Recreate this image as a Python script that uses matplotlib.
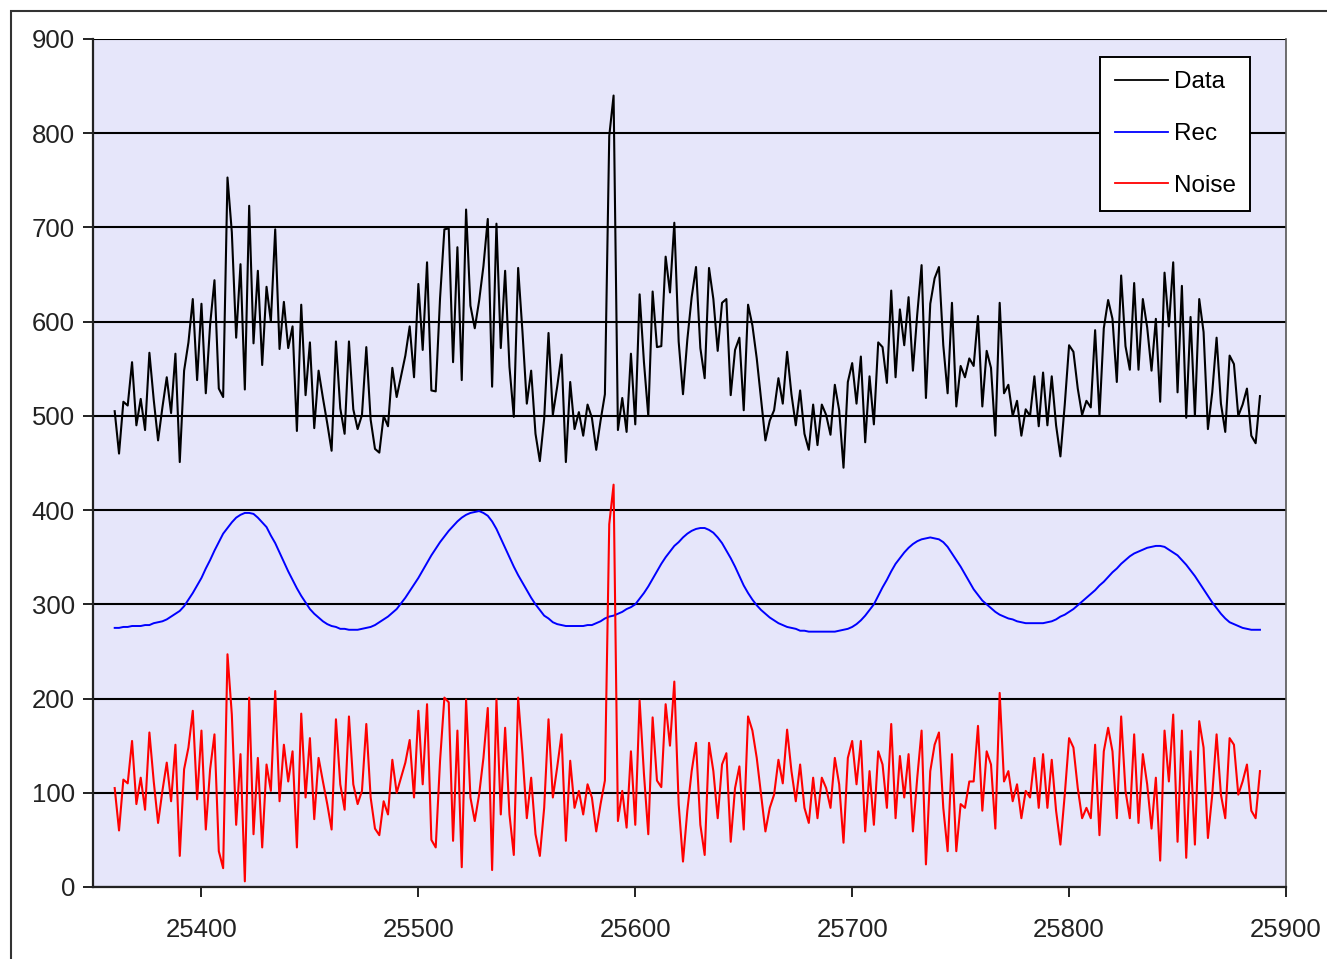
import numpy as np
import matplotlib.pyplot as plt
from matplotlib.patches import Rectangle

# day index, one sample every 2 days
days = np.arange(25360, 25889, 2)

data = [505, 460, 515, 511, 557, 490, 518, 485, 567, 517,
        474, 509, 541, 503, 566, 451, 548, 578, 624, 538,
        619, 524, 597, 644, 529, 520, 753, 695, 583, 661,
        528, 723, 577, 654, 554, 637, 600, 698, 571, 621,
        572, 595, 484, 618, 522, 578, 487, 548, 519, 492,
        463, 579, 508, 481, 579, 507, 486, 501, 573, 496,
        465, 461, 500, 489, 551, 520, 542, 564, 595, 541,
        640, 570, 663, 527, 526, 625, 698, 699, 557, 679,
        538, 719, 617, 593, 622, 659, 709, 531, 704, 572,
        654, 552, 499, 657, 589, 513, 548, 481, 452, 497,
        588, 501, 531, 565, 451, 536, 486, 504, 479, 512,
        498, 464, 495, 523, 797, 840, 485, 519, 483, 566,
        491, 629, 557, 500, 632, 573, 574, 669, 631, 705,
        579, 523, 581, 626, 658, 572, 540, 657, 624, 569,
        620, 624, 522, 570, 583, 506, 618, 596, 561, 517,
        474, 495, 506, 540, 513, 568, 523, 490, 527, 481,
        464, 512, 469, 512, 501, 480, 533, 506, 445, 536,
        556, 513, 563, 472, 542, 491, 578, 573, 535, 633,
        541, 613, 575, 626, 548, 608, 660, 519, 619, 646,
        658, 575, 524, 620, 510, 553, 541, 561, 553, 606,
        510, 569, 551, 479, 620, 524, 533, 500, 516, 479,
        507, 500, 542, 489, 546, 490, 542, 490, 457, 512,
        575, 568, 529, 501, 516, 509, 591, 500, 593, 623,
        603, 536, 649, 574, 549, 641, 549, 624, 594, 548,
        603, 515, 652, 595, 663, 525, 638, 498, 605, 500,
        624, 589, 486, 525, 583, 513, 483, 564, 555, 500,
        512, 529, 479, 471, 521]

rec = [275, 275, 276, 276, 277, 277, 277, 278, 278, 280,
       281, 282, 284, 287, 290, 293, 298, 305, 312, 320,
       328, 338, 347, 357, 366, 375, 381, 387, 392, 395,
       397, 397, 396, 392, 387, 382, 373, 365, 355, 345,
       335, 326, 317, 309, 302, 295, 290, 286, 282, 279,
       277, 276, 274, 274, 273, 273, 273, 274, 275, 276,
       278, 281, 284, 287, 291, 295, 301, 307, 314, 321,
       328, 336, 344, 352, 359, 366, 372, 378, 383, 388,
       392, 395, 397, 398, 399, 397, 394, 388, 380, 370,
       360, 350, 340, 331, 323, 315, 307, 300, 294, 288,
       285, 281, 279, 278, 277, 277, 277, 277, 277, 278,
       278, 280, 282, 285, 287, 288, 290, 292, 295, 297,
       300, 306, 312, 319, 327, 335, 343, 350, 356, 362,
       366, 371, 375, 378, 380, 381, 381, 379, 376, 371,
       365, 357, 349, 340, 330, 320, 312, 305, 299, 294,
       290, 286, 283, 280, 278, 276, 275, 274, 272, 272,
       271, 271, 271, 271, 271, 271, 271, 272, 273, 274,
       276, 279, 283, 288, 294, 300, 309, 318, 326, 335,
       343, 349, 355, 360, 364, 367, 369, 370, 371, 370,
       369, 366, 361, 354, 347, 340, 332, 324, 316, 310,
       304, 300, 296, 292, 289, 287, 285, 284, 282, 281,
       280, 280, 280, 280, 280, 281, 282, 284, 287, 289,
       292, 295, 299, 303, 307, 311, 315, 320, 324, 329,
       334, 338, 343, 347, 351, 354, 356, 358, 360, 361,
       362, 362, 361, 358, 355, 352, 347, 342, 336, 330,
       323, 316, 309, 302, 296, 290, 285, 281, 279, 277,
       275, 274, 273, 273, 273]

noise = [105, 60, 114, 110, 155, 88, 116, 82, 164, 112,
         68, 102, 132, 91, 151, 33, 125, 148, 187, 93,
         166, 61, 125, 162, 38, 20, 247, 183, 66, 141,
         6, 201, 56, 137, 42, 130, 102, 208, 91, 151,
         112, 144, 42, 184, 95, 158, 72, 137, 112, 88,
         61, 178, 109, 82, 181, 109, 88, 102, 173, 95,
         62, 55, 91, 77, 135, 100, 116, 132, 156, 95,
         187, 109, 194, 50, 42, 134, 201, 196, 49, 166,
         21, 199, 95, 70, 98, 137, 190, 18, 199, 77,
         169, 77, 34, 201, 141, 73, 116, 56, 33, 84,
         178, 95, 127, 162, 49, 134, 84, 102, 77, 109,
         95, 59, 88, 113, 385, 427, 70, 102, 63, 144,
         66, 198, 120, 56, 180, 113, 106, 194, 150, 218,
         88, 27, 81, 123, 153, 66, 34, 153, 123, 73,
         130, 142, 48, 105, 128, 61, 181, 166, 137, 98,
         59, 84, 98, 135, 110, 167, 123, 91, 130, 84,
         68, 116, 73, 116, 105, 84, 137, 109, 47, 137,
         155, 109, 155, 59, 123, 66, 144, 130, 84, 173,
         73, 139, 95, 141, 59, 116, 166, 24, 123, 151,
         164, 84, 38, 141, 38, 88, 84, 112, 112, 171,
         81, 144, 130, 62, 206, 112, 123, 91, 109, 73,
         102, 95, 137, 84, 141, 84, 135, 81, 45, 98,
         158, 148, 105, 73, 84, 73, 151, 55, 144, 169,
         144, 73, 181, 102, 73, 162, 68, 141, 109, 62,
         116, 28, 166, 112, 183, 48, 166, 31, 144, 45,
         176, 148, 52, 98, 162, 98, 73, 158, 151, 98,
         112, 130, 81, 73, 123]

x_ticks = [25400, 25500, 25600, 25700, 25800, 25900]
y_ticks = [0, 100, 200, 300, 400, 500, 600, 700, 800, 900]

plt.rcParams['font.family'] = ['Liberation Sans', 'DejaVu Sans']

W, H = 1327, 959
fig = plt.figure(figsize=(W / 100, H / 100), dpi=100)
fig.patch.set_facecolor('white')

# plot area in pixels: x 93..1286, y 39..887
ax = fig.add_axes([93 / W, 1 - 887 / H, (1286 - 93) / W, (887 - 39) / H])
ax.set_facecolor('#E6E6FA')

ax.plot(days, data, color='black', lw=1.5, label='Data')
ax.plot(days, rec, color='#0000FF', lw=1.4, label='Rec')
ax.plot(days, noise, color='#FF0000', lw=1.5, label='Noise')

ax.set_xlim(25350, 25900)
ax.set_ylim(0, 900)
ax.set_xticks(x_ticks)
ax.set_yticks(y_ticks)
ax.yaxis.grid(True, color='black', lw=1.5)
ax.xaxis.grid(False)
ax.set_axisbelow(True)

for side in ['left', 'bottom']:
    ax.spines[side].set_color('#222222')
    ax.spines[side].set_linewidth(1.6)
ax.spines['top'].set_visible(False)
ax.spines['right'].set_color('#555555')
ax.spines['right'].set_linewidth(1.2)

ax.tick_params(axis='both', direction='out', length=7, width=1.4,
               colors='#222222', labelsize=18.5)
ax.tick_params(axis='x', pad=15)
ax.tick_params(axis='y', pad=6)

leg = ax.legend(loc='upper right', bbox_to_anchor=(0.970, 0.979),
                borderaxespad=0, fontsize=17.5, frameon=True, fancybox=False,
                handlelength=2.2, handletextpad=0.22, labelspacing=1.22,
                borderpad=0.6)
leg.get_frame().set_edgecolor('black')
leg.get_frame().set_linewidth(1.4)
leg.get_frame().set_facecolor('white')
leg.get_frame().set_alpha(1)
for line in leg.get_lines():
    line.set_linewidth(1.3)

# outer chart frame (only top and left edges fall inside the image)
fig.patches.append(Rectangle((11 / W, -0.1), 1.2, 1.1 - 11 / H,
                             transform=fig.transFigure, fill=False,
                             lw=1.5, edgecolor='#333333'))

fig.savefig('out.png', dpi=100)
